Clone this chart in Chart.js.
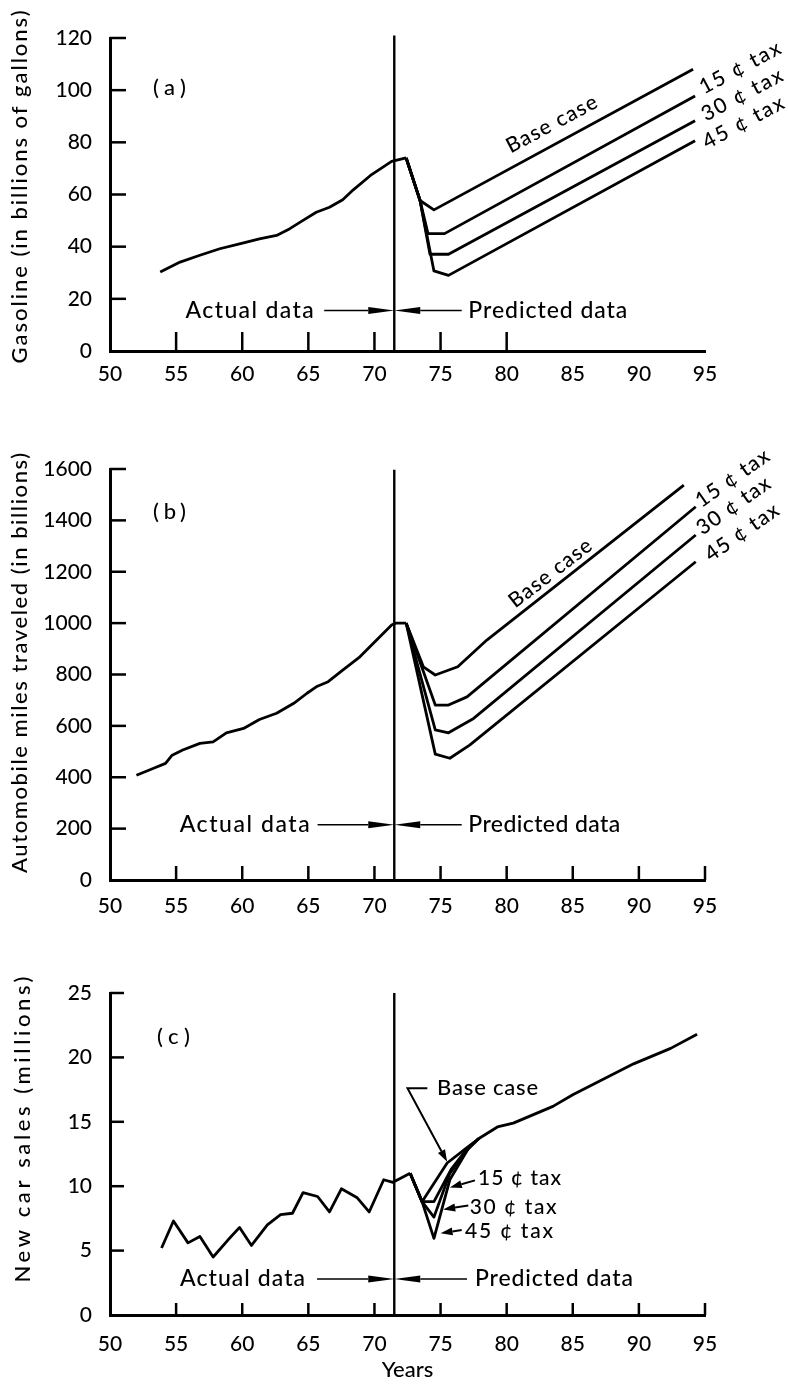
<!DOCTYPE html>
<html>
<head>
<meta charset="utf-8">
<script src="https://cdn.jsdelivr.net/npm/chart.js@4.4.1/dist/chart.umd.min.js"></script>
<style>
  html, body { margin: 0; padding: 0; background: #ffffff; }
  #wrap { position: relative; width: 788px; height: 1384px; overflow: hidden; background: #fff; }
  canvas { position: absolute; left: 0; }
</style>
</head>
<body>
<div id="wrap">
  <canvas id="cA" width="788" height="410" style="top:0px"></canvas>
  <canvas id="cB" width="788" height="500" style="top:420px"></canvas>
  <canvas id="cC" width="788" height="444" style="top:940px"></canvas>
</div>
<script>
// ---------------- DATA ----------------
const xTickLabels = [50, 55, 60, 65, 70, 75, 80, 85, 90, 95];
const dividerYear = 71.5;

// (a) Gasoline (billions of gallons)
const gasTicks = [0, 20, 40, 60, 80, 100, 120];
const gasActualYears  = [53.8, 55.3, 56.8, 58.3, 59.8, 61.3, 62.6, 63.6, 64.6, 65.6, 66.6, 67.6, 68.4, 69.7, 71.3, 72.4];
const gasActualValues = [30.3, 34.1, 36.7, 39.2, 41.1, 43.0, 44.3, 46.9, 50.1, 53.2, 55.1, 58.0, 61.8, 67.3, 72.7, 74.0];
const gasBaseYears  = [72.4, 73.45, 74.5, 94.1];
const gasBaseValues = [74.0, 57.7, 54.1, 108.0];
const gas15Years  = [72.4, 73.45, 74.05, 75.3, 94.25];
const gas15Values = [74.0, 57.7, 45.0, 45.0, 97.8];
const gas30Years  = [72.4, 73.45, 74.2, 75.6, 94.25];
const gas30Values = [74.0, 57.7, 37.1, 37.1, 88.3];
const gas45Years  = [72.4, 73.45, 74.5, 75.6, 94.25];
const gas45Values = [74.0, 57.7, 30.7, 29.0, 80.6];
const gasDividerValues = [0, 121];

// (b) Automobile miles traveled (billions)
const milesTicks = [0, 200, 400, 600, 800, 1000, 1200, 1400, 1600];
const milesActualYears  = [52.0, 53.3, 54.2, 54.7, 55.5, 56.8, 57.8, 58.8, 60.1, 61.3, 62.6, 63.9, 64.9, 65.6, 66.5, 67.6, 68.9, 69.9, 71.3, 71.6, 72.4];
const milesActualValues = [408, 435, 454, 486, 506, 532, 538, 573, 590, 625, 649, 688, 727, 752, 772, 817, 869, 921, 993, 1000, 1000];
const milesBaseYears  = [72.4, 73.7, 74.6, 76.3, 78.5, 93.4];
const milesBaseValues = [1000, 830, 798, 830, 934, 1537];
const miles15Years  = [72.4, 74.6, 75.6, 77.0, 94.3];
const miles15Values = [1000, 681, 681, 713, 1453];
const miles30Years  = [72.4, 74.6, 75.6, 77.5, 94.3];
const miles30Values = [1000, 584, 573, 629, 1343];
const miles45Years  = [72.4, 74.6, 75.7, 77.2, 94.3];
const miles45Values = [1000, 490, 474, 525, 1239];
const milesDividerValues = [0, 1597];

// (c) New car sales (millions)
const salesTicks = [0, 5, 10, 15, 20, 25];
const salesActualYears  = [53.9, 54.8, 55.9, 56.8, 57.8, 58.9, 59.8, 60.7, 61.9, 62.9, 63.8, 64.6, 65.7, 66.6, 67.5, 68.7, 69.6, 70.7, 71.4, 72.7];
const salesActualValues = [5.2, 7.3, 5.6, 6.1, 4.5, 5.8, 6.8, 5.4, 7.0, 7.8, 7.9, 9.5, 9.2, 8.0, 9.8, 9.1, 8.0, 10.5, 10.3, 11.0];
const salesBaseYears  = [72.7, 73.6, 75.5, 77.0, 77.9, 79.3, 80.5, 83.5, 85.0, 89.6, 92.4, 94.4];
const salesBaseValues = [11.0, 8.8, 11.8, 13.0, 13.7, 14.6, 14.9, 16.2, 17.1, 19.5, 20.7, 21.8];
const sales15Years  = [72.7, 73.6, 74.5, 75.8, 77.0, 77.9];
const sales15Values = [11.0, 8.8, 8.8, 11.3, 12.9, 13.7];
const sales30Years  = [72.7, 73.6, 74.5, 75.7, 77.0, 77.9];
const sales30Values = [11.0, 8.8, 7.6, 11.0, 12.8, 13.7];
const sales45Years  = [72.7, 73.6, 74.5, 75.7, 77.2, 77.9];
const sales45Values = [11.0, 8.8, 5.95, 10.5, 13.1, 13.7];
const salesDividerValues = [0, 25];

// ---------------- RENDERING ----------------
const FONT = 'Lato, "Noto Sans", "DejaVu Sans", sans-serif';
const WEIGHT = '500';

function drawSpacedText(ctx, text, align, width, size) {
  ctx.font = WEIGHT + ' ' + size + 'px ' + FONT;
  ctx.textBaseline = 'middle';
  ctx.textAlign = 'left';
  if ('letterSpacing' in ctx) ctx.letterSpacing = '0px';
  const w0 = ctx.measureText(text).width;
  let sp = 0;
  if (width && text.length > 1 && ('letterSpacing' in ctx)) {
    sp = Math.max(-1, (width - w0) / (text.length - 1));
    ctx.letterSpacing = sp + 'px';
  }
  const total = w0 + sp * (text.length - 1);
  const x0 = align === 'left' ? 0 : (align === 'right' ? -total : -total / 2);
  ctx.fillText(text, x0, 0);
  if ('letterSpacing' in ctx) ctx.letterSpacing = '0px';
}

function drawArrowPath(ctx, pts, headLen, headHalf, lw) {
  ctx.lineWidth = lw;
  const n = pts.length;
  const [xe, ye] = pts[n - 1];
  const [xp, yp] = pts[n - 2];
  const ang = Math.atan2(ye - yp, xe - xp);
  const bx = xe - headLen * Math.cos(ang), by = ye - headLen * Math.sin(ang);
  ctx.beginPath();
  ctx.moveTo(pts[0][0], pts[0][1]);
  for (let i = 1; i < n - 1; i++) ctx.lineTo(pts[i][0], pts[i][1]);
  ctx.lineTo(bx, by);
  ctx.stroke();
  ctx.beginPath();
  ctx.moveTo(xe, ye);
  ctx.lineTo(bx + headHalf * Math.sin(ang), by - headHalf * Math.cos(ang));
  ctx.lineTo(bx - headHalf * Math.sin(ang), by + headHalf * Math.cos(ang));
  ctx.closePath();
  ctx.fill();
}

function makeFigurePlugin(fig) {
  return {
    id: 'figure_' + fig.name,
    afterDraw(chart) {
      const { ctx, chartArea } = chart;
      const xs = chart.scales.x, ys = chart.scales.y;
      const px = v => xs.getPixelForValue(v), py = v => ys.getPixelForValue(v);
      ctx.save();
      ctx.strokeStyle = '#000';
      ctx.fillStyle = '#000';
      ctx.lineCap = 'butt';
      // inward tick marks
      ctx.lineWidth = 2.5;
      fig.yTickMarks.forEach(v => {
        const yy = py(v);
        ctx.beginPath(); ctx.moveTo(chartArea.left, yy); ctx.lineTo(chartArea.left + fig.yTickLen, yy); ctx.stroke();
      });
      fig.xTickMarks.forEach(v => {
        const xx = px(v);
        ctx.beginPath(); ctx.moveTo(xx, chartArea.bottom); ctx.lineTo(xx, chartArea.bottom - fig.xTickLen); ctx.stroke();
      });
      // rotated y-axis title
      const t = fig.yTitle;
      ctx.save();
      ctx.translate(t.xPix, py(t.yv));
      ctx.rotate(-Math.PI / 2);
      drawSpacedText(ctx, t.text, 'center', t.length, t.size);
      ctx.restore();
      // annotation texts
      fig.texts.forEach(a => {
        ctx.save();
        ctx.translate(px(a.x), py(a.y));
        if (a.angle) ctx.rotate(a.angle * Math.PI / 180);
        drawSpacedText(ctx, a.t, a.align, a.w, a.size);
        ctx.restore();
      });
      // arrows
      fig.arrows.forEach(a => {
        const pts = a.pts.map(p => [px(p[0]), py(p[1])]);
        drawArrowPath(ctx, pts, a.head[0], a.head[1], a.lw || 1.6);
      });
      ctx.restore();
    }
  };
}

function series(years, values, w) {
  return {
    data: years.map((x, i) => ({ x: x, y: values[i] })),
    borderColor: '#000',
    borderWidth: w,
    pointRadius: 0,
    pointHoverRadius: 0,
    fill: false,
    tension: 0,
    clip: false,
    borderJoinStyle: 'round',
    borderCapStyle: 'butt'
  };
}

function makeChart(id, cfg) {
  const canvas = document.getElementById(id);
  const H = canvas.height;
  const datasets = cfg.series.map(s => series(s[0], s[1], 2.8));
  datasets.push(series([dividerYear, dividerYear], cfg.divider, 2.4));
  return new Chart(canvas, {
    type: 'line',
    data: { datasets: datasets },
    options: {
      responsive: false,
      animation: false,
      devicePixelRatio: 1,
      events: [],
      layout: { padding: { top: cfg.areaTop, right: 83, left: 0, bottom: 0 } },
      plugins: { legend: { display: false }, tooltip: { enabled: false } },
      scales: {
        x: {
          type: 'linear', min: 50, max: 95,
          afterBuildTicks: s => { s.ticks = xTickLabels.map(v => ({ value: v })); },
          afterFit: s => { s.height = H - cfg.areaBottom; },
          grid: { display: false },
          border: { display: true, width: 3, color: '#000' },
          ticks: {
            autoSkip: false, maxRotation: 0, minRotation: 0, padding: cfg.xPad,
            color: '#000', font: { family: FONT, size: 21, weight: WEIGHT },
            callback: v => String(v)
          },
          title: cfg.xTitle ? {
            display: true, text: cfg.xTitle, color: '#000',
            font: { family: FONT, size: 22, weight: WEIGHT }, padding: { top: 0, bottom: 1 }
          } : { display: false }
        },
        y: {
          type: 'linear', min: 0, max: cfg.yTicks[cfg.yTicks.length - 1],
          afterBuildTicks: s => { s.ticks = cfg.yTicks.map(v => ({ value: v })); },
          afterFit: s => { s.width = 110; },
          grid: { display: false },
          border: { display: true, width: 3, color: '#000' },
          ticks: {
            padding: 10, color: '#000', font: { family: FONT, size: 21, weight: WEIGHT },
            callback: v => String(v)
          }
        }
      }
    },
    plugins: [makeFigurePlugin(cfg.fig)]
  });
}

const ARROW_BIG = [26, 3.5];
const ARROW_SMALL = [12, 4];

function build() {
  makeChart('cA', {
    areaTop: 38, areaBottom: 351, xPad: 3,
    yTicks: gasTicks,
    divider: gasDividerValues,
    series: [
      [gasActualYears, gasActualValues],
      [gasBaseYears, gasBaseValues],
      [gas15Years, gas15Values],
      [gas30Years, gas30Values],
      [gas45Years, gas45Values]
    ],
    fig: {
      name: 'a',
      yTickMarks: [20, 40, 60, 80, 100, 120], yTickLen: 16,
      xTickMarks: [55, 60, 65, 70, 75, 80], xTickLen: 19,
      yTitle: { text: 'Gasoline (in billions of gallons)', xPix: 20, yv: 62.9, length: 353, size: 22 },
      texts: [
        { t: '(a)', x: 54.5, y: 101, align: 'center', w: 33, size: 22 },
        { t: 'Actual data', x: 65.4, y: 15.5, align: 'right', w: 128, size: 23 },
        { t: 'Predicted data', x: 77.1, y: 15.5, align: 'left', w: 159, size: 23 },
        { t: 'Base case', x: 83.4, y: 87.0, align: 'center', w: 100, size: 21, angle: -28 },
        { t: '15 ¢ tax', x: 97.66, y: 108.6, align: 'center', w: 89, size: 21, angle: -28 },
        { t: '30 ¢ tax', x: 97.8, y: 98.2, align: 'center', w: 89, size: 21, angle: -28 },
        { t: '45 ¢ tax', x: 97.9, y: 87.6, align: 'center', w: 89, size: 21, angle: -28 }
      ],
      arrows: [
        { pts: [[66.2, 15.5], [dividerYear, 15.5]], head: ARROW_BIG },
        { pts: [[76.6, 15.5], [dividerYear, 15.5]], head: ARROW_BIG }
      ]
    }
  });

  makeChart('cB', {
    areaTop: 49, areaBottom: 460, xPad: 6,
    yTicks: milesTicks,
    divider: milesDividerValues,
    series: [
      [milesActualYears, milesActualValues],
      [milesBaseYears, milesBaseValues],
      [miles15Years, miles15Values],
      [miles30Years, miles30Values],
      [miles45Years, miles45Values]
    ],
    fig: {
      name: 'b',
      yTickMarks: [200, 400, 600, 800, 1000, 1200, 1400, 1600], yTickLen: 16,
      xTickMarks: [55, 60, 65, 70, 75, 80, 85, 90, 95], xTickLen: 14,
      yTitle: { text: 'Automobile miles traveled (in billions)', xPix: 20, yv: 845, length: 420, size: 22 },
      texts: [
        { t: '(b)', x: 54.5, y: 1432, align: 'center', w: 33, size: 22 },
        { t: 'Actual data', x: 65.1, y: 215, align: 'right', w: 130, size: 23 },
        { t: 'Predicted data', x: 77.1, y: 215, align: 'left', w: 152, size: 23 },
        { t: 'Base case', x: 83.3, y: 1194, align: 'center', w: 99, size: 21, angle: -37.5 },
        { t: '15 ¢ tax', x: 97.07, y: 1564, align: 'center', w: 85, size: 21, angle: -35 },
        { t: '30 ¢ tax', x: 97.15, y: 1457, align: 'center', w: 85, size: 21, angle: -35 },
        { t: '45 ¢ tax', x: 97.8, y: 1353, align: 'center', w: 85, size: 21, angle: -35 }
      ],
      arrows: [
        { pts: [[65.7, 215], [dividerYear, 215]], head: ARROW_BIG },
        { pts: [[76.6, 215], [dividerYear, 215]], head: ARROW_BIG }
      ]
    }
  });

  makeChart('cC', {
    areaTop: 53, areaBottom: 375, xPad: 9, xTitle: 'Years',
    yTicks: salesTicks,
    divider: salesDividerValues,
    series: [
      [salesActualYears, salesActualValues],
      [salesBaseYears, salesBaseValues],
      [sales15Years, sales15Values],
      [sales30Years, sales30Values],
      [sales45Years, sales45Values]
    ],
    fig: {
      name: 'c',
      yTickMarks: [5, 10, 15, 20, 25], yTickLen: 14,
      xTickMarks: [55, 60, 65, 70, 75, 80, 85, 90, 95], xTickLen: 12,
      yTitle: { text: 'New car sales (millions)', xPix: 23, yv: 14.4, length: 306, size: 22 },
      texts: [
        { t: '(c)', x: 54.8, y: 21.6, align: 'center', w: 33, size: 22 },
        { t: 'Actual data', x: 64.75, y: 2.8, align: 'right', w: 125, size: 23 },
        { t: 'Predicted data', x: 77.6, y: 2.8, align: 'left', w: 158, size: 23 },
        { t: 'Base case', x: 74.74, y: 17.6, align: 'left', w: 101, size: 22 },
        { t: '15 ¢ tax', x: 77.84, y: 10.6, align: 'left', w: 83, size: 21 },
        { t: '30 ¢ tax', x: 77.2, y: 8.4, align: 'left', w: 87, size: 21 },
        { t: '45 ¢ tax', x: 76.85, y: 6.5, align: 'left', w: 88, size: 21 }
      ],
      arrows: [
        { pts: [[65.66, 2.8], [dividerYear, 2.8]], head: ARROW_BIG },
        { pts: [[77.0, 2.8], [dividerYear, 2.8]], head: ARROW_BIG },
        { pts: [[74.0, 17.6], [72.5, 17.6], [75.5, 11.9]], head: ARROW_SMALL, lw: 2 },
        { pts: [[77.6, 10.45], [75.7, 9.9]], head: ARROW_SMALL, lw: 2 },
        { pts: [[77.1, 8.5], [75.2, 8.2]], head: ARROW_SMALL, lw: 2 },
        { pts: [[76.6, 6.6], [75.0, 6.35]], head: ARROW_SMALL, lw: 2 }
      ]
    }
  });
}

if (document.fonts && document.fonts.load) {
  Promise.all([document.fonts.load('500 21px Lato'), document.fonts.load('21px "Noto Sans"')])
    .then(build, build);
} else {
  build();
}
</script>
</body>
</html>
